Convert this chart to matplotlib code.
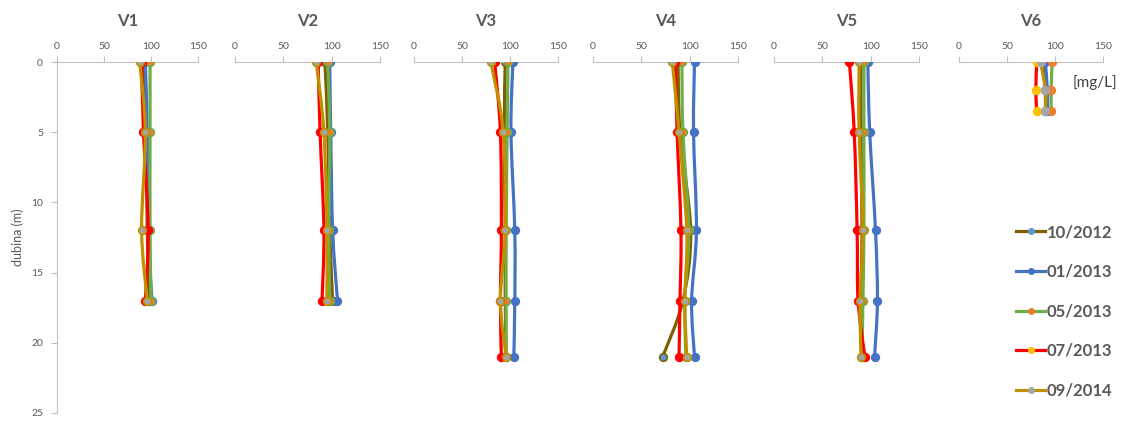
import numpy as np
import matplotlib
matplotlib.use('Agg')
import matplotlib.pyplot as plt
from matplotlib.path import Path
from matplotlib.patches import PathPatch
from matplotlib.lines import Line2D

plt.rcParams['font.family'] = ['Lato', 'DejaVu Sans']

# ---------------- data ----------------
wells = ['V1', 'V2', 'V3', 'V4', 'V5', 'V6']
series = ['10/2012', '01/2013', '05/2013', '07/2013', '09/2014']

depth_v1 = [0, 5, 12, 17]
depth_v2 = [0, 5, 12, 17]
depth_v3 = [0, 5, 12, 17, 21]
depth_v4 = [0, 5, 12, 17, 21]
depth_v5 = [0, 5, 12, 17, 21]
depth_v6 = [0, 2, 3.5]

v1_values = {'10/2012': [92, 95, 96, 98], '01/2013': [94, 96, 97, 101],
             '05/2013': [99, 99, 99, 100], '07/2013': [90, 92, 97, 94],
             '09/2014': [88, 94, 90, 96]}
v2_values = {'10/2012': [93, 96, 98, 101], '01/2013': [98, 99, 101, 106],
             '05/2013': [96, 98, 97, 98], '07/2013': [86, 88, 92, 90],
             '09/2014': [84, 92, 95, 95]}
v3_values = {'10/2012': [95, 94, 95, 95, 96], '01/2013': [103, 101, 105, 105, 104],
             '05/2013': [98, 97, 96, 96, 96], '07/2013': [84, 90, 91, 90, 91],
             '09/2014': [80, 93, 95, 90, 96]}
v4_values = {'10/2012': [88, 90, 101, 93, 72], '01/2013': [105, 104, 107, 102, 105],
             '05/2013': [92, 93, 99, 95, 96], '07/2013': [85, 87, 91, 90, 89],
             '09/2014': [82, 89, 97, 95, 97]}
v5_values = {'10/2012': [90, 90, 91, 90, 91], '01/2013': [97, 99, 105, 107, 104],
             '05/2013': [93, 93, 93, 92, 91], '07/2013': [78, 83, 86, 87, 94],
             '09/2014': [88, 88, 92, 89, 90]}
v6_values = {'10/2012': [89, 90, 90], '01/2013': [90, 92, 92],
             '05/2013': [97, 96, 96], '07/2013': [81, 80, 81],
             '09/2014': [85, 90, 90]}

x_ticks = [0, 50, 100, 150]
y_ticks = [0, 5, 10, 15, 20, 25]

depths = [depth_v1, depth_v2, depth_v3, depth_v4, depth_v5, depth_v6]
values = [v1_values, v2_values, v3_values, v4_values, v5_values, v6_values]

# ---------------- style ----------------
line_colors = ['#7F6000', '#4472C4', '#70AD47', '#FF0000', '#BF9000']
marker_colors = ['#5B9BD5', '#4472C4', '#ED7D31', '#FFC000', '#A5A5A5']
text_gray = '#595959'
axis_gray = '#BFBFBF'

W, H = 1121, 421
fig = plt.figure(figsize=(W / 100, H / 100), dpi=100)

# axes pixel boxes (left, right); top/bottom shared
px_lr = [(57, 198), (235, 380), (414, 558), (593, 738), (774, 919), (959, 1103)]
top_px, bot_px = 62, 413


def smooth_path(x, y):
    """Excel-like smoothed line through the points (Catmull-Rom Bezier)."""
    pts = np.column_stack([x, y]).astype(float)
    n = len(pts)
    verts = [pts[0]]
    codes = [Path.MOVETO]
    for i in range(n - 1):
        p0 = pts[i - 1] if i > 0 else pts[i]
        p1 = pts[i]
        p2 = pts[i + 1]
        p3 = pts[i + 2] if i + 2 < n else pts[i + 1]
        c1 = p1 + (p2 - p0) / 6.0
        c2 = p2 - (p3 - p1) / 6.0
        verts += [c1, c2, p2]
        codes += [Path.CURVE4] * 3
    return Path(verts, codes)


for k, well in enumerate(wells):
    l, r = px_lr[k]
    ax = fig.add_axes([l / W, 1 - bot_px / H, (r - l) / W, (bot_px - top_px) / H])
    ax.set_xlim(0, 150)
    ax.set_ylim(25, 0)
    ax.xaxis.tick_top()
    ax.set_xticks(x_ticks)
    ax.tick_params(axis='x', direction='out', length=4, width=0.8, color=axis_gray,
                   labelsize=7.5, labelcolor=text_gray, pad=4)
    for s in ['right', 'bottom']:
        ax.spines[s].set_visible(False)
    ax.spines['top'].set_color(axis_gray)
    ax.spines['top'].set_linewidth(0.8)
    if k == 0:
        ax.spines['left'].set_color(axis_gray)
        ax.spines['left'].set_linewidth(0.8)
        ax.set_yticks(y_ticks)
        ax.tick_params(axis='y', direction='out', length=4, width=0.8, color=axis_gray,
                       labelsize=7.5, labelcolor=text_gray, pad=6)
        ax.set_ylabel('dubina (m)', fontsize=9, color=text_gray, labelpad=5)
    else:
        ax.spines['left'].set_visible(False)
        ax.set_yticks([])
    ax.patch.set_alpha(0)
    ax.text(0.5, 1 + 36 / (bot_px - top_px), well, transform=ax.transAxes,
            ha='center', va='baseline', fontsize=12, fontweight='bold', color=text_gray)

    d = depths[k]
    vals = values[k]
    for j, name in enumerate(series):
        x = vals[name]
        face = marker_colors[j]
        edge = line_colors[j]
        if well == 'V6':
            edge = face
        elif name == '07/2013':
            face = line_colors[j]
        patch = PathPatch(smooth_path(x, d), fill=False, edgecolor=line_colors[j],
                          lw=2.3, capstyle='round', joinstyle='round', zorder=2 + j)
        ax.add_patch(patch)
        ax.plot(x, d, linestyle='none', marker='o', markersize=5.5,
                markerfacecolor=face, markeredgecolor=edge,
                markeredgewidth=1.2, zorder=2.5 + j)

fig.text(1073 / W, 1 - 87 / H, '[mg/L]', fontsize=11, color='#404040', va='baseline')

handles = [Line2D([], [], color=line_colors[j], lw=2.3, marker='o', markersize=4,
                  markerfacecolor=marker_colors[j], markeredgecolor=marker_colors[j])
           for j in range(len(series))]
leg = fig.legend(handles, series, loc='upper left', bbox_to_anchor=(1016 / W, 1 - 224 / H),
                 frameon=False, handlelength=1.75, handletextpad=0.1, labelspacing=1.42,
                 borderpad=0, borderaxespad=0,
                 prop={'weight': 'bold', 'size': 12})
for t in leg.get_texts():
    t.set_color(text_gray)

fig.savefig('out.png', dpi=100)
